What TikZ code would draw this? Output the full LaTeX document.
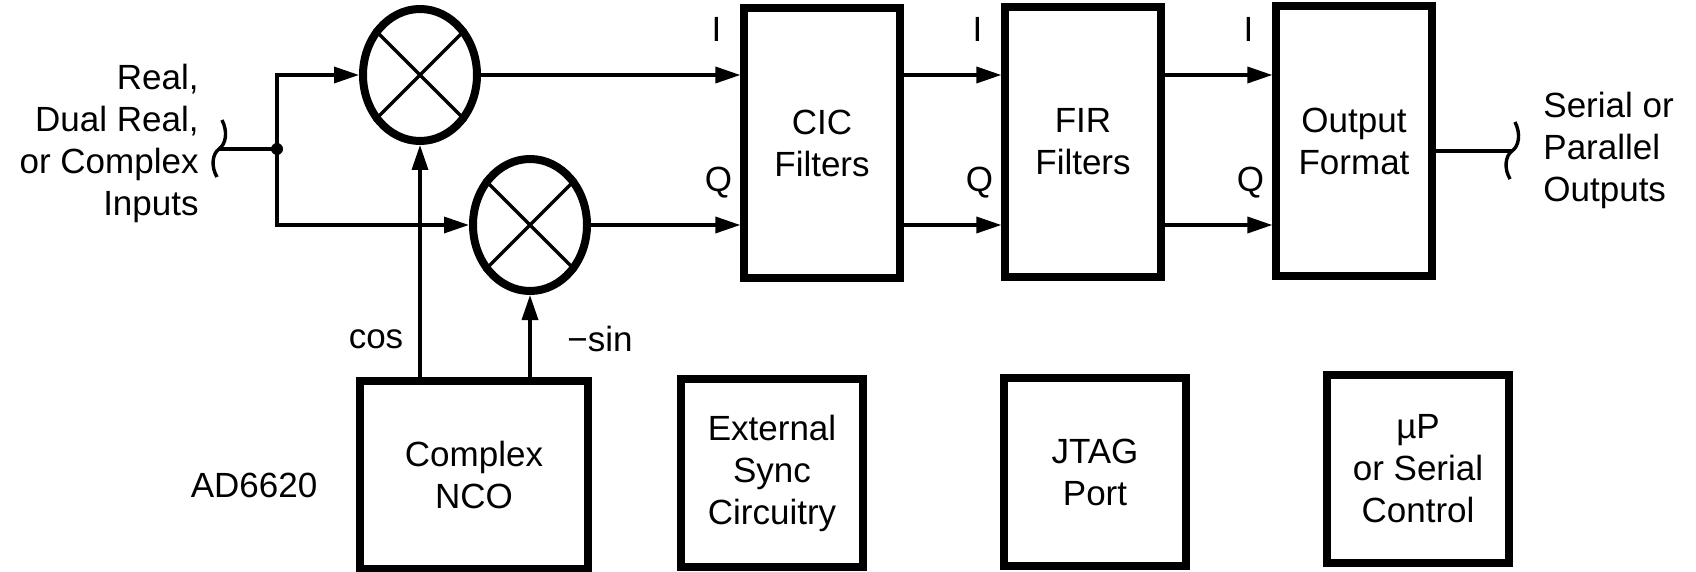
\documentclass[tikz,border=0pt]{standalone}
\usepackage{fontspec}
\setmainfont{Liberation Sans}
\usetikzlibrary{arrows.meta,positioning,shapes.geometric}

\tikzset{
  blk/.style={draw, line width=3.6pt, align=center, minimum width=78pt, minimum height=135pt},
  lowblk/.style={draw, line width=3.6pt, align=center, minimum width=91pt, minimum height=94pt},
  mixer/.style={draw, ellipse, line width=4pt, minimum width=57pt, minimum height=66pt, inner sep=0pt},
  wire/.style={line width=1.7pt},
  sig/.style={wire, -{Triangle[length=12.5pt,width=8pt]}},
  lbl/.style={inner sep=0pt}
}
\newcommand{\sbrace}[1]{\draw[wire,shift={(#1)}] (3,-29) .. controls (9,-17) and (7,-5) .. (0,0)
  .. controls (-7,5) and (-8,18) .. (-2,28);}

\begin{document}
\begin{tikzpicture}[x=0.5pt, y=-0.5pt, font=\fontsize{17.5}{21}\selectfont]
\useasboundingbox (0,0) rectangle (1696,572);

\node[mixer] (mixi) at (420,75) {};
\node[mixer] (mixq) at (530,225) {};
\foreach \m in {mixi,mixq} {
  \draw[wire] (\m.45) -- (\m.225);
  \draw[wire] (\m.135) -- (\m.315);
}

\node[blk] (cic) at (822,143) {CIC\\Filters};
\node[blk] (fir) at (1083,142) {FIR\\Filters};
\node[blk] (fmt) at (1354,141) {Output\\Format};

\node[lowblk, minimum width=114pt] (nco) at (474,475) {Complex\\NCO};
\node[lowblk] (sync) at (772,473) {External\\Sync\\Circuitry};
\node[lowblk] (jtag) at (1095,472) {JTAG\\Port};
\node[lowblk] (ctrl) at (1418,469) {µP\\or Serial\\Control};
\node[lbl] (chip) at (254,485) {AD6620};

\node[lbl, align=right, anchor=east] (inlbl) at (199,143) {Real,\\Dual Real,\\or Complex\\Inputs};
\coordinate (inb) at (219,149);
\coordinate (split) at (277,149);
\sbrace{inb}
\draw[wire] (inb) -- (split);
\fill (split) circle (3pt);
\draw[sig] (split) |- (mixi);
\draw[sig] (split) |- (mixq);

\draw[sig] (mixi.east) -- (mixi.east -| cic.west);
\draw[sig] (mixq.east) -- (mixq.east -| cic.west);
\draw[sig] (cic.east |- mixi) -- (fir.west |- mixi);
\draw[sig] (cic.east |- mixq) -- (fir.west |- mixq);
\draw[sig] (fir.east |- mixi) -- (fmt.west |- mixi);
\draw[sig] (fir.east |- mixq) -- (fmt.west |- mixq);
\foreach \b in {cic,fir,fmt} {
  \node[lbl] (i-\b) at ([shift={(-12pt,23pt)}]\b.west |- mixi) {I};
  \node[lbl] (q-\b) at ([shift={(-11pt,21pt)}]\b.west |- mixq) {Q};
}

\draw[sig] (nco.north -| mixi) -- (mixi.south);
\draw[sig] (nco.north -| mixq) -- (mixq.south);
\node[lbl] (coslbl) at (376,339) {cos};
\node[lbl] (sinlbl) at (600,339) {−sin};

\coordinate (outb) at (1512,151);
\draw[wire] (fmt.east |- outb) -- (outb);
\sbrace{outb}
\node[lbl, align=left, anchor=west] (outlbl) at (1543,150) {Serial or\\Parallel\\Outputs};
\end{tikzpicture}
\end{document}
